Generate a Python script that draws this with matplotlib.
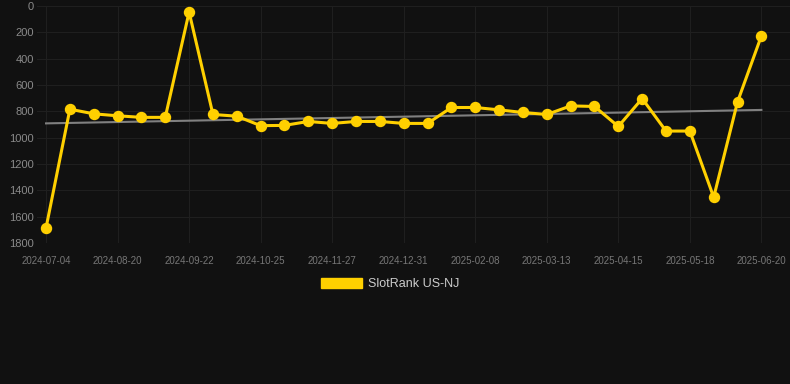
import numpy as np
import matplotlib.pyplot as plt
from matplotlib.patches import Patch

# tick labels sit on every third weekly point
tick_labels = ['2024-07-04', '2024-08-20', '2024-09-22', '2024-10-25', '2024-11-27',
               '2024-12-31', '2025-02-08', '2025-03-13', '2025-04-15', '2025-05-18',
               '2025-06-20']
ranks = [1685, 783, 818, 833, 845, 845, 45, 823, 836, 908,
         906, 876, 891, 876, 876, 891, 891, 770, 770, 788,
         808, 823, 758, 762, 914, 702, 949, 949, 1452, 727,
         226]
series_name = 'SlotRank US-NJ'

bg = '#111111'
gold = '#FFD000'

plt.rcParams['font.family'] = ['Liberation Sans', 'DejaVu Sans']

fig = plt.figure(figsize=(7.9, 3.84), dpi=100, facecolor=bg)
ax = fig.add_axes([0.0468, 0.367, 0.9532, 0.617])
ax.set_facecolor(bg)

x = np.arange(len(ranks))
slope, icept = np.polyfit(x, ranks, 1)
ax.plot(x, slope * x + icept, color='#808080', lw=1.5, zorder=2)
ax.plot(x, ranks, color=gold, lw=2.2, marker='o', ms=7.2, zorder=3)

ax.set_xlim(-0.38, 31.2)
ax.set_ylim(1800, 0)
ax.set_yticks(range(0, 1801, 200))
ax.set_xticks(x[::3])
ax.set_xticklabels(tick_labels)

ax.grid(True, color='#1f1f1f', lw=0.8)
ax.set_axisbelow(True)
for s in ax.spines.values():
    s.set_visible(False)
ax.tick_params(axis='y', length=0, pad=2, labelsize=8, labelcolor='#8a8a8a')
ax.tick_params(axis='x', length=0, pad=9, labelsize=7, labelcolor='#777777')

fig.legend(handles=[Patch(color=gold, label=series_name)], loc='center',
           bbox_to_anchor=(0.494, 0.26), frameon=False, fontsize=9,
           labelcolor='#cccccc', handlelength=3.3, handleheight=0.9,
           handletextpad=0.5)

fig.savefig('out.png', dpi=100, facecolor=bg)
